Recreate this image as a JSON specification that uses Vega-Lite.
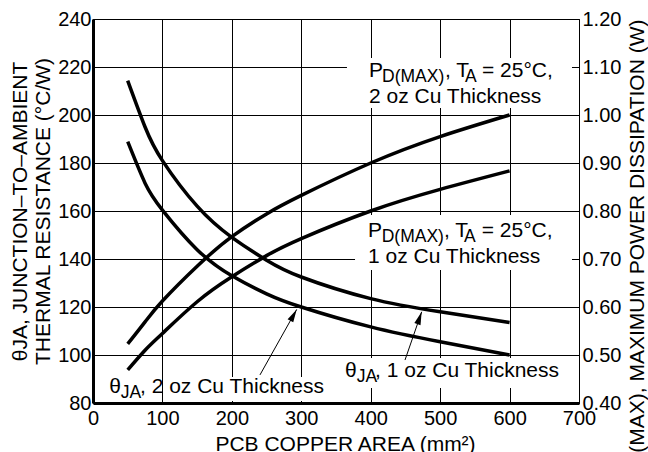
{
  "$schema": "https://vega.github.io/schema/vega-lite/v6.json",
  "width": 486,
  "height": 384,
  "autosize": {"type": "none"},
  "padding": {"left": 93, "top": 19, "right": 69, "bottom": 49},
  "background": "white",
  "config": {
    "font": "Liberation Sans",
    "view": {"stroke": "black", "strokeWidth": 1},
    "axis": {"labelFont": "Liberation Sans", "titleFont": "Liberation Sans", "labelColor": "black", "titleColor": "black", "titleFontWeight": "normal"}
  },
  "datasets": {
    "theta": [
      {"series": "1 oz", "area": 50, "theta": 214.3},
      {"series": "1 oz", "area": 75, "theta": 195},
      {"series": "1 oz", "area": 100, "theta": 181},
      {"series": "1 oz", "area": 150, "theta": 162},
      {"series": "1 oz", "area": 200, "theta": 149},
      {"series": "1 oz", "area": 250, "theta": 139.5},
      {"series": "1 oz", "area": 300, "theta": 132.5},
      {"series": "1 oz", "area": 400, "theta": 123.5},
      {"series": "1 oz", "area": 500, "theta": 118},
      {"series": "1 oz", "area": 600, "theta": 113.5},
      {"series": "2 oz", "area": 50, "theta": 188.9},
      {"series": "2 oz", "area": 75, "theta": 171.6},
      {"series": "2 oz", "area": 100, "theta": 160.4},
      {"series": "2 oz", "area": 150, "theta": 143.9},
      {"series": "2 oz", "area": 200, "theta": 133},
      {"series": "2 oz", "area": 250, "theta": 125.5},
      {"series": "2 oz", "area": 300, "theta": 120},
      {"series": "2 oz", "area": 400, "theta": 111.7},
      {"series": "2 oz", "area": 500, "theta": 105.5},
      {"series": "2 oz", "area": 600, "theta": 100}
    ],
    "pd": [
      {"series": "2 oz", "area": 50, "pd": 0.523},
      {"series": "2 oz", "area": 75, "pd": 0.569},
      {"series": "2 oz", "area": 100, "pd": 0.6125},
      {"series": "2 oz", "area": 150, "pd": 0.685},
      {"series": "2 oz", "area": 200, "pd": 0.7465},
      {"series": "2 oz", "area": 250, "pd": 0.794},
      {"series": "2 oz", "area": 300, "pd": 0.8325},
      {"series": "2 oz", "area": 400, "pd": 0.9},
      {"series": "2 oz", "area": 500, "pd": 0.955},
      {"series": "2 oz", "area": 600, "pd": 1.0},
      {"series": "1 oz", "area": 50, "pd": 0.469},
      {"series": "1 oz", "area": 75, "pd": 0.51},
      {"series": "1 oz", "area": 100, "pd": 0.545},
      {"series": "1 oz", "area": 150, "pd": 0.611},
      {"series": "1 oz", "area": 200, "pd": 0.663},
      {"series": "1 oz", "area": 250, "pd": 0.707},
      {"series": "1 oz", "area": 300, "pd": 0.7425},
      {"series": "1 oz", "area": 400, "pd": 0.8},
      {"series": "1 oz", "area": 500, "pd": 0.845},
      {"series": "1 oz", "area": 600, "pd": 0.8835}
    ],
    "boxes": [
      {"label": "A", "x": 365.8, "x2": 689.9, "y": 202.9, "y2": 223.75},
      {"label": "B", "x": 377.4, "x2": 689.9, "y": 135.4, "y2": 158.3},
      {"label": "C", "x": 360, "x2": 679.8, "y": 86.25, "y2": 98.75},
      {"label": "D", "x": 105.1, "x2": 341.3, "y": 80.8, "y2": 90.8}
    ],
    "arrows": [
      {"label": "2 oz", "x": 240.5, "y": 91.7, "x2": 293.4, "y2": 119.0},
      {"label": "1 oz", "x": 449.4, "y": 97.9, "x2": 473.4, "y2": 118.0}
    ],
    "mainText": [
      {"text": "P", "x": 397.5, "y": 215.8},
      {"text": ", T", "x": 507, "y": 215.8},
      {"text": "= 25°C,", "x": 560.3, "y": 215.8},
      {"text": "2 oz Cu Thickness", "x": 397.5, "y": 205},
      {"text": "P", "x": 396.1, "y": 149.2},
      {"text": ", T", "x": 505.6, "y": 149.2},
      {"text": "= 25°C,", "x": 559.9, "y": 149.2},
      {"text": "1 oz Cu Thickness", "x": 396.1, "y": 138.3},
      {"text": "θ", "x": 363, "y": 90.8},
      {"text": ", 1 oz Cu Thickness", "x": 406.2, "y": 90.8},
      {"text": "θ", "x": 23.5, "y": 84.2},
      {"text": ", 2 oz Cu Thickness", "x": 67.7, "y": 84.2}
    ],
    "subText": [
      {"text": "D(MAX)", "x": 416.3, "y": 215.8},
      {"text": "A", "x": 535.8, "y": 215.8},
      {"text": "D(MAX)", "x": 415.8, "y": 149.2},
      {"text": "A", "x": 534.4, "y": 149.2},
      {"text": "JA", "x": 379.8, "y": 90.8},
      {"text": "JA", "x": 39.9, "y": 84.2}
    ]
  },
  "layer": [
    {
      "layer": [
        {
          "data": {"name": "theta"},
          "mark": {"type": "line", "interpolate": "natural", "strokeWidth": 3.5, "color": "black"},
          "encoding": {
            "x": {
              "field": "area", "type": "quantitative",
              "scale": {"domain": [0, 700], "nice": false},
              "axis": {
                "values": [0, 100, 200, 300, 400, 500, 600, 700],
                "grid": true, "gridColor": "black", "gridWidth": 1, "gridOpacity": 1,
                "domainColor": "black", "domainWidth": 3,
                "ticks": false, "tickSize": 0,
                "labelFontSize": 20, "labelPadding": 5, "labelFlush": false, "labelOverlap": false,
                "title": "PCB COPPER AREA (mm²)", "titleFontSize": 21,
                "titleX": 252, "titleY": 47, "titleAlign": "center", "titleBaseline": "alphabetic"
              }
            },
            "y": {
              "field": "theta", "type": "quantitative",
              "scale": {"domain": [80, 240], "nice": false},
              "axis": {
                "values": [80, 100, 120, 140, 160, 180, 200, 220, 240],
                "grid": true, "gridColor": "black", "gridWidth": 1, "gridOpacity": 1,
                "domainColor": "black", "domainWidth": 3,
                "ticks": false, "tickSize": 0,
                "labelFontSize": 20, "labelPadding": 2, "labelOverlap": false,
                "title": ["θJA, JUNCTION–TO–AMBIENT", "THERMAL RESISTANCE (°C/W)"],
                "titleFontSize": 21, "titleLineHeight": 23, "titleAngle": -90,
                "titleX": -72.5, "titleY": 192, "titleAlign": "center", "titleBaseline": "middle"
              }
            },
            "detail": {"field": "series"}
          }
        },
        {
          "data": {"name": "boxes"},
          "mark": {"type": "rect", "fill": "white", "strokeWidth": 0},
          "encoding": {
            "x": {"field": "x", "type": "quantitative", "scale": {"domain": [0, 700], "nice": false}},
            "x2": {"field": "x2"},
            "y": {"field": "y", "type": "quantitative", "scale": {"domain": [80, 240], "nice": false}},
            "y2": {"field": "y2"}
          }
        },
        {
          "data": {"name": "arrows"},
          "mark": {"type": "rule", "color": "black", "strokeWidth": 1},
          "encoding": {
            "x": {"field": "x", "type": "quantitative", "scale": {"domain": [0, 700], "nice": false}},
            "x2": {"field": "x2"},
            "y": {"field": "y", "type": "quantitative", "scale": {"domain": [80, 240], "nice": false}},
            "y2": {"field": "y2"}
          }
        },
        {
          "data": {"name": "arrows"},
          "transform": [{"filter": "datum.label == '2 oz'"}],
          "mark": {"type": "point", "shape": "M0,0L-0.5,2L0.5,2Z", "filled": true, "size": 169, "angle": 29, "color": "black", "opacity": 1, "strokeWidth": 0},
          "encoding": {
            "x": {"field": "x2", "type": "quantitative", "scale": {"domain": [0, 700], "nice": false}},
            "y": {"field": "y2", "type": "quantitative", "scale": {"domain": [80, 240], "nice": false}}
          }
        },
        {
          "data": {"name": "arrows"},
          "transform": [{"filter": "datum.label == '1 oz'"}],
          "mark": {"type": "point", "shape": "M0,0L-0.5,2L0.5,2Z", "filled": true, "size": 169, "angle": 19, "color": "black", "opacity": 1, "strokeWidth": 0},
          "encoding": {
            "x": {"field": "x2", "type": "quantitative", "scale": {"domain": [0, 700], "nice": false}},
            "y": {"field": "y2", "type": "quantitative", "scale": {"domain": [80, 240], "nice": false}}
          }
        },
        {
          "data": {"name": "mainText"},
          "mark": {"type": "text", "align": "left", "baseline": "alphabetic", "fontSize": 21, "color": "black", "font": "Liberation Sans"},
          "encoding": {
            "x": {"field": "x", "type": "quantitative", "scale": {"domain": [0, 700], "nice": false}},
            "y": {"field": "y", "type": "quantitative", "scale": {"domain": [80, 240], "nice": false}},
            "text": {"field": "text"}
          }
        },
        {
          "data": {"name": "subText"},
          "mark": {"type": "text", "align": "left", "baseline": "alphabetic", "fontSize": 17.5, "dy": 5, "color": "black", "font": "Liberation Sans"},
          "encoding": {
            "x": {"field": "x", "type": "quantitative", "scale": {"domain": [0, 700], "nice": false}},
            "y": {"field": "y", "type": "quantitative", "scale": {"domain": [80, 240], "nice": false}},
            "text": {"field": "text"}
          }
        }
      ]
    },
    {
      "data": {"name": "pd"},
      "mark": {"type": "line", "interpolate": "natural", "strokeWidth": 3.5, "color": "black"},
      "encoding": {
        "x": {"field": "area", "type": "quantitative", "scale": {"domain": [0, 700], "nice": false}},
        "y": {
          "field": "pd", "type": "quantitative",
          "scale": {"domain": [0.4, 1.2], "nice": false},
          "axis": {
            "orient": "right",
            "values": [0.4, 0.5, 0.6, 0.7, 0.8, 0.9, 1.0, 1.1, 1.2],
            "format": ".2f",
            "grid": false, "domain": false,
            "ticks": false, "tickSize": 0,
            "labelFontSize": 20, "labelPadding": 3, "labelOverlap": false,
            "title": "PD(MAX), MAXIMUM POWER DISSIPATION (W)",
            "titleFontSize": 21, "titleAngle": -90,
            "titleX": 58, "titleY": 0, "titleAlign": "right", "titleBaseline": "middle"
          }
        },
        "detail": {"field": "series"}
      }
    }
  ],
  "resolve": {"scale": {"y": "independent"}}
}
